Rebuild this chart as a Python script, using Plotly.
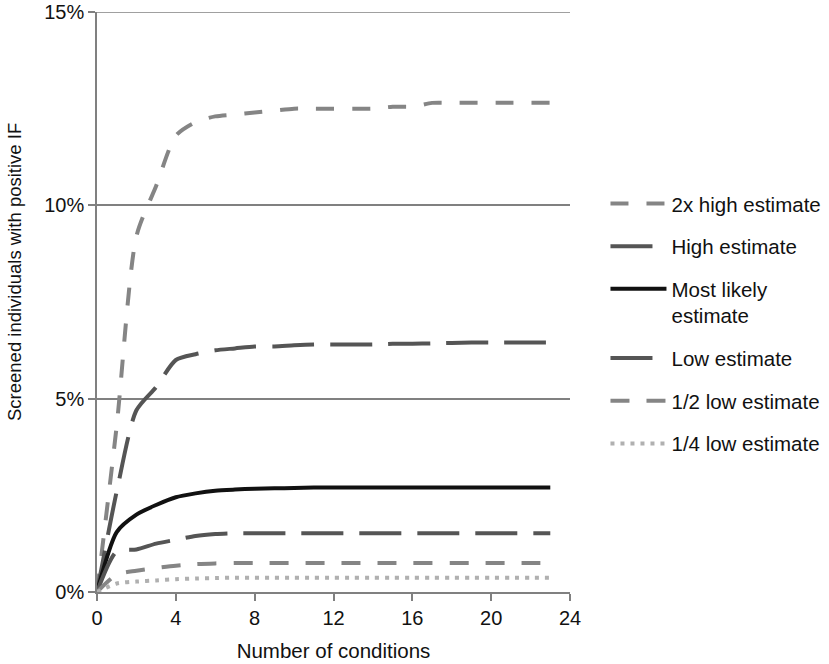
import plotly.graph_objects as go

# Number of conditions (x) and share of screened individuals with positive IF (%)
conditions = list(range(0, 24))

high_2x = [0, 4.3, 9.2, 10.5, 11.8, 12.15, 12.3, 12.35, 12.4, 12.45, 12.5, 12.5,
           12.5, 12.5, 12.5, 12.55, 12.55, 12.65, 12.65, 12.65, 12.65, 12.65, 12.65, 12.65]
high = [0, 2.6, 4.7, 5.3, 6.0, 6.15, 6.25, 6.3, 6.35, 6.35, 6.38, 6.4,
        6.4, 6.4, 6.4, 6.42, 6.42, 6.43, 6.44, 6.45, 6.45, 6.45, 6.45, 6.45]
most_likely = [0, 1.55, 2.0, 2.25, 2.45, 2.55, 2.62, 2.65, 2.67, 2.68, 2.69, 2.7,
               2.7, 2.7, 2.7, 2.7, 2.7, 2.7, 2.7, 2.7, 2.7, 2.7, 2.7, 2.7]
low = [0, 1.05, 1.1, 1.25, 1.35, 1.45, 1.5, 1.52, 1.52, 1.52, 1.52, 1.52,
       1.52, 1.52, 1.52, 1.52, 1.52, 1.52, 1.52, 1.52, 1.52, 1.52, 1.52, 1.52]
half_low = [0, 0.45, 0.55, 0.62, 0.68, 0.72, 0.74, 0.75, 0.75, 0.75, 0.75, 0.75,
            0.75, 0.75, 0.75, 0.75, 0.75, 0.75, 0.75, 0.75, 0.75, 0.75, 0.75, 0.75]
quarter_low = [0, 0.22, 0.27, 0.3, 0.33, 0.35, 0.36, 0.37, 0.37, 0.37, 0.37, 0.37,
               0.37, 0.37, 0.37, 0.37, 0.37, 0.37, 0.37, 0.37, 0.37, 0.37, 0.37, 0.37]

series = [
    ("2x high estimate", high_2x, "#858585", "18px,18px"),
    ("High estimate", high, "#555555", "42px,16px"),
    ("Most likely<br>estimate", most_likely, "#111111", "solid"),
    ("Low estimate", low, "#555555", "42px,16px"),
    ("1/2 low estimate", half_low, "#858585", "19px,17px"),
    ("1/4 low estimate", quarter_low, "#b0b0b0", "4px,6px"),
]

fig = go.Figure()
for i, (name, vals, color, dash) in enumerate(series):
    fig.add_trace(go.Scatter(
        x=conditions, y=vals, name=name, mode="lines",
        line=dict(color=color, dash=dash, width=4, shape="spline", smoothing=0.7),
        legendgroup="g%d" % i,
    ))

fig.update_layout(
    width=829, height=664,
    margin=dict(l=97, r=259, t=12, b=72, autoexpand=False),
    paper_bgcolor="white", plot_bgcolor="white",
    font=dict(family="Liberation Sans, Arial, sans-serif", size=20, color="#111111"),
    showlegend=True,
    legend=dict(
        x=1.075, y=0.704, xanchor="left", yanchor="top",
        font=dict(size=20.5), tracegroupgap=13, valign="top",
        itemwidth=56, bgcolor="rgba(0,0,0,0)",
    ),
    annotations=[dict(
        text="Screened individuals with positive IF", textangle=-90,
        xref="paper", yref="paper", x=-0.173, y=0.552,
        xanchor="center", yanchor="middle", showarrow=False,
        font=dict(size=18.5),
    )],
    # top gridline at 15% (plotly skips the grid line on the range edge)
    shapes=[dict(type="line", xref="paper", yref="y", x0=0, x1=1, y0=15, y1=15,
                 line=dict(color="#808080", width=1.5), layer="below")],
)
fig.update_xaxes(
    range=[0, 24], dtick=4, tick0=0, showgrid=False, automargin=False,
    showline=True, linecolor="#808080", linewidth=1.5,
    ticks="outside", ticklen=7, tickcolor="#808080", tickwidth=1.5,
    tickfont=dict(size=20), zeroline=False, ticklabeloverflow="allow",
    title=dict(text="Number of conditions", font=dict(size=20.5), standoff=16),
)
fig.update_yaxes(
    range=[0, 15], dtick=5, ticksuffix="%", showgrid=True, automargin=False,
    gridcolor="#808080", gridwidth=1.5,
    showline=True, linecolor="#808080", linewidth=1.5,
    ticks="outside", ticklen=7, tickcolor="#808080", tickwidth=1.5,
    tickfont=dict(size=20), zeroline=False, ticklabeloverflow="allow",
)

# drop the default 8px page margin so the figure fills the window
fig.write_html("out.html", config={"displayModeBar": False},
               post_script="document.body.style.margin='0px';")
